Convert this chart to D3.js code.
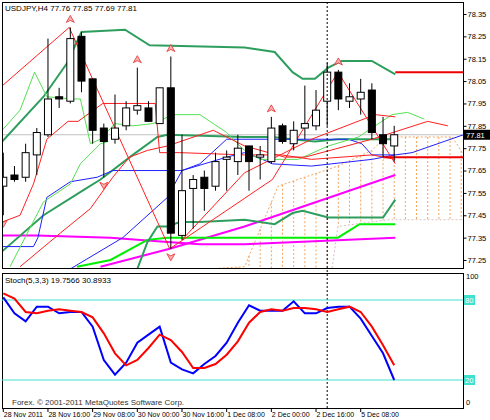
<!DOCTYPE html>
<html>
<head>
<meta charset="utf-8">
<script src="https://cdn.jsdelivr.net/npm/d3@7"></script>
<style>
body { margin: 0; background: #fff; }
svg { font-family: "Liberation Sans", sans-serif; font-size: 8px; }
</style>
</head>
<body>
<svg id="chart" width="490" height="420"></svg>
<script>
// candles, OHLC of USDJPY H4
var opens  = [77.58,77.63,77.62,77.72,77.81,77.98,77.96,78.25,78.06,77.84,77.79,77.85,77.92,77.93,77.86,78.02,77.36,77.57,77.62,77.58,77.70,77.69,77.76,77.71,77.69,77.85,77.77,77.84,77.85,77.96,78.09,77.96,77.97,78.01,77.81,77.76];
var highs  = [77.73,77.67,77.77,77.84,78.24,78.02,78.29,78.27,78.06,77.86,77.99,77.96,78.11,77.96,78.02,78.16,77.81,77.63,77.65,77.73,77.74,77.81,77.76,77.76,77.89,77.86,77.87,78.03,78.01,78.13,78.10,78.04,78.06,78.04,77.89,77.85];
var lows   = [77.45,77.60,77.60,77.63,77.80,77.93,77.95,78.00,77.77,77.62,77.77,77.83,77.90,77.87,77.86,77.30,77.34,77.39,77.47,77.56,77.56,77.63,77.56,77.61,77.68,77.77,77.74,77.79,77.83,77.85,77.92,77.93,77.90,77.79,77.71,77.69];
var closes = [77.62,77.61,77.73,77.82,77.97,77.97,78.24,78.05,77.83,77.78,77.84,77.93,77.94,77.87,78.02,77.37,77.56,77.61,77.57,77.69,77.71,77.75,77.69,77.72,77.84,77.78,77.83,77.86,77.92,78.09,77.97,77.98,78.00,77.82,77.77,77.81];

// indicator lines as [bar index, price]
var bbUpper = [[-0.1,77.78],[3.6,77.98],[5.7,78.13],[7.0,78.27],[10.9,78.28],[13.1,78.21],[21.6,78.20],[24.3,78.18],[25.9,78.09],[26.8,78.06],[27.9,78.06],[29.1,78.11],[30.3,78.14],[33.0,78.14],[35.1,78.08]];
var bbMid = [[-0.3,77.28],[3.6,77.45],[7.1,77.56],[8.7,77.61],[11.6,77.72],[13.8,77.80],[14.7,77.81],[21.6,77.80],[24.1,77.80],[25.9,77.79],[27.9,77.78],[29.96,77.79],[33.0,77.79],[35.1,77.79]];
var bbLower = [[12.0,77.21],[12.9,77.33],[13.8,77.40],[14.7,77.40],[15.8,77.42],[17.6,77.42],[21.6,77.43],[24.3,77.41],[25.9,77.46],[26.8,77.47],[29.1,77.44],[34.0,77.44],[35.1,77.52]];
var magentaFlat = [[-0.3,77.36],[3.0,77.36],[9.6,77.35],[14.7,77.33],[17.6,77.32],[21.6,77.32],[35.1,77.35]];
var magentaRise = [[8.7,77.22],[14.9,77.30],[21.6,77.40],[35.1,77.63]];
var limeLine = [[6.6,77.22],[9.6,77.25],[12.9,77.34],[14.7,77.35],[21.6,77.35],[29.96,77.35],[31.9,77.41],[35.1,77.41]];
var blueA = [[-0.3,77.31],[2.7,77.31],[3.1,77.35],[3.9,77.53],[6.0,77.60],[8.4,77.62],[9.8,77.65],[16.0,77.65],[17.6,77.68],[20.0,77.79],[24.9,77.79],[30.9,77.79],[32.1,77.77],[33.0,77.72],[35.1,77.72],[36.6,77.73],[41.2,77.81]];
var blueB = [[6.0,77.21],[10.7,77.35],[14.7,77.53],[16.0,77.65],[20.0,77.71],[21.6,77.73],[23.2,77.70],[24.1,77.68],[27.6,77.67],[29.4,77.68],[33.0,77.70],[35.1,77.72]];
var greenA = [[-0.1,77.83],[1.5,77.92],[2.8,78.09],[3.9,77.98],[6.1,77.97],[6.9,77.97],[7.8,77.77],[8.7,77.79],[10.0,77.86],[11.6,77.85],[13.4,77.86],[15.2,77.90],[17.6,77.90],[20.0,77.82],[21.6,77.74],[23.0,77.70],[26.4,77.70],[29.1,77.76],[31.8,77.80],[34.8,77.90],[36.2,77.91],[37.7,77.88]];
var greenB = [[0.6,77.22],[3.6,77.51],[6.0,77.59],[6.9,77.68],[8.7,77.77],[9.4,77.78]];
var zigzag = [[-0.3,78.02],[5.9,78.29],[14.9,77.30],[24.1,77.61],[29.96,78.09],[35.1,77.68]];
var redStep = [[-0.1,77.42],[1.5,77.45],[2.7,77.59],[3.9,77.79],[5.8,77.87],[6.7,77.87],[8.9,77.95],[13.6,77.95],[14.0,77.73],[15.8,77.73],[21.6,77.72],[24.9,77.72],[27.6,77.70],[33.0,77.72],[35.1,77.70]];
var redC = [[1.5,77.22],[5.1,77.37],[7.8,77.48],[9.8,77.62],[11.3,77.71],[12.9,77.74],[14.7,77.76],[18.8,77.83],[21.6,77.76],[25.2,77.71],[27.0,77.71],[33.0,77.79],[38.0,77.87],[39.8,77.85]];
var redD = [[16.0,77.34],[21.6,77.64],[27.6,77.79],[33.3,77.90],[35.1,77.89]];
var levelLines = [[35.1,41.2,78.09],[34.0,41.2,77.71]];
var senkouA = [[15.0,77.20],[21.6,77.22],[24.6,77.58],[29.96,77.67],[33.0,77.74],[34.2,77.80],[40.2,77.80],[41.1,77.73]];
var senkouB = [[15.0,77.20],[29.4,77.20],[29.96,77.40],[34.4,77.43],[41.1,77.43]];
var fractalUp = [6,12,15,24,30];
var fractalDown = [0,9,15];

// stochastic
var stochMain = [82,70,64,75,75,70,71,71,60,35,24,33,48,54,60,33,28,25,32,38,48,63,76,72,72,72,79,70,70,74,75,75,66,53,40,20];
var stochSignal = [85,81,71,70,72,73,72,71,67,55,40,31,35,44,54,50,41,29,29,32,39,49,63,71,73,72,74,74,73,71,73,75,71,60,46,31];

var priceTicks = [78.35,78.25,78.15,78.05,77.95,77.85,77.75,77.65,77.55,77.45,77.35,77.25];
var timeLabels = ["28 Nov 2011","28 Nov 16:00","29 Nov 08:00","30 Nov 00:00","30 Nov 16:00","1 Dec 08:00","2 Dec 00:00","2 Dec 16:00","5 Dec 08:00"];
var lastPrice = 77.81;
var separatorBar = 29;

var svg = d3.select("#chart");
var left = 2, right = 463, mainTop = 2, mainBottom = 268, subTop = 273, subBottom = 408;

var x = d3.scaleLinear().domain([0, 35]).range([3.3, 394.2]);
var y = d3.scaleLinear().domain([77.25, 78.35]).range([260, 14]);
var ys = d3.scaleLinear().domain([20, 80]).range([380, 300]);

svg.append("defs").append("clipPath").attr("id", "mainclip")
  .append("rect").attr("x", left).attr("y", mainTop).attr("width", right - left).attr("height", mainBottom - mainTop);
svg.append("defs").append("clipPath").attr("id", "subclip")
  .append("rect").attr("x", left).attr("y", subTop).attr("width", right - left).attr("height", subBottom - subTop);

var main = svg.append("g").attr("clip-path", "url(#mainclip)");

// kumo cloud: dotted verticals between senkou lines
function interp(pts, i) {
  for (var k = 0; k < pts.length - 1; k++) {
    if (i >= pts[k][0] && i <= pts[k+1][0]) {
      var t = (i - pts[k][0]) / (pts[k+1][0] - pts[k][0]);
      return pts[k][1] + t * (pts[k+1][1] - pts[k][1]);
    }
  }
  return null;
}
d3.range(15, 42).forEach(function(i) {
  var a = interp(senkouA, i), b = interp(senkouB, i);
  if (a == null || b == null) return;
  main.append("line").attr("x1", x(i)).attr("x2", x(i)).attr("y1", y(a)).attr("y2", y(b))
    .attr("stroke", "#f4a460").attr("stroke-width", 1).attr("stroke-dasharray", "2,2");
});

var line = d3.line().x(function(d) { return x(d[0]); }).y(function(d) { return y(d[1]); });
function drawLine(data, color, w, dash) {
  main.append("path").datum(data).attr("d", line).attr("fill", "none")
    .attr("stroke", color).attr("stroke-width", w).attr("stroke-dasharray", dash || null);
}
drawLine(senkouA, "#f4a460", 1, "2,2");
drawLine(senkouB, "#d8c0c0", 1, "2,2");

// bid line
main.append("line").attr("x1", left).attr("x2", right).attr("y1", y(lastPrice)).attr("y2", y(lastPrice))
  .attr("stroke", "#c0c0c0").attr("stroke-width", 1);

drawLine(magentaFlat, "#ff00ff", 2);
drawLine(magentaRise, "#ff00ff", 2);
drawLine(limeLine, "#00ee00", 2);
drawLine(bbUpper, "#2e9e5e", 2);
drawLine(bbMid, "#2e9e5e", 2);
drawLine(bbLower, "#2e9e5e", 2);
drawLine(blueA, "#2020ff", 1);
drawLine(blueB, "#2020ff", 1);
drawLine(greenA, "#55e055", 1);
drawLine(greenB, "#55e055", 1);
drawLine(redStep, "#ff2020", 1);
drawLine(redC, "#ff2020", 1);
drawLine(redD, "#ff2020", 1);
drawLine(zigzag, "#ff2020", 1);

levelLines.forEach(function(d) {
  main.append("line").attr("x1", x(d[0])).attr("x2", x(d[1])).attr("y1", y(d[2])).attr("y2", y(d[2]))
    .attr("stroke", "#ee0000").attr("stroke-width", 2);
});

// candles
var bars = main.selectAll("g.bar").data(opens.map(function(o, i) {
  return {i: i, o: o, h: highs[i], l: lows[i], c: closes[i]};
})).enter().append("g").attr("class", "bar");
bars.append("line").attr("x1", function(d) { return x(d.i); }).attr("x2", function(d) { return x(d.i); })
  .attr("y1", function(d) { return y(d.h); }).attr("y2", function(d) { return y(d.l); })
  .attr("stroke", "#000").attr("stroke-width", 1);
bars.append("rect")
  .attr("x", function(d) { return x(d.i) - 3.5; })
  .attr("y", function(d) { return y(Math.max(d.o, d.c)); })
  .attr("width", 7)
  .attr("height", function(d) { return Math.max(1, Math.abs(y(d.o) - y(d.c))); })
  .attr("fill", function(d) { return d.c >= d.o ? "#fff" : "#000"; })
  .attr("stroke", "#000").attr("stroke-width", 1);

// fractal arrows
function arrow(i, py, up) {
  var cx = x(i), s = up ? 1 : -1;
  main.append("path")
    .attr("d", "M" + (cx - 4) + "," + (py + 3 * s) + "L" + cx + "," + (py - 4 * s) + "L" + (cx + 4) + "," + (py + 3 * s) + "L" + cx + "," + (py + 1 * s) + "Z")
    .attr("fill", "#ffb0b0").attr("stroke", "#e03030").attr("stroke-width", 0.8);
}
fractalUp.forEach(function(i) { arrow(i, y(highs[i]) - 8, true); });
fractalDown.forEach(function(i) { arrow(i, y(lows[i]) + 8, false); });

// separator
svg.append("line").attr("x1", x(separatorBar)).attr("x2", x(separatorBar)).attr("y1", mainTop).attr("y2", subBottom)
  .attr("stroke", "#000").attr("stroke-dasharray", "2,2").attr("stroke-width", 1);

// frames
svg.append("rect").attr("x", left + 0.5).attr("y", mainTop + 0.5).attr("width", right - left).attr("height", mainBottom - mainTop)
  .attr("fill", "none").attr("stroke", "#000");
svg.append("rect").attr("x", left + 0.5).attr("y", subTop + 0.5).attr("width", right - left).attr("height", subBottom - subTop)
  .attr("fill", "none").attr("stroke", "#000");

// price axis
var yAxis = d3.axisRight(y).tickValues(priceTicks).tickSize(3).tickPadding(1).tickFormat(d3.format(".2f"));
var ya = svg.append("g").attr("transform", "translate(" + (right + 0.5) + ",0)").call(yAxis);
ya.attr("font-size", 7.5).attr("font-family", "Liberation Sans");
ya.select(".domain").remove();
svg.append("rect").attr("x", right + 1).attr("y", y(lastPrice) - 5).attr("width", 26).attr("height", 10).attr("fill", "#000");
svg.append("text").attr("x", right + 3).attr("y", y(lastPrice) + 3).attr("font-size", 7.5).attr("fill", "#fff").text(lastPrice.toFixed(2));

svg.append("text").attr("x", 5).attr("y", 11).text("USDJPY,H4  77.76 77.85 77.69 77.81");

// stochastic panel
var sub = svg.append("g").attr("clip-path", "url(#subclip)");
[80, 20].forEach(function(v) {
  sub.append("line").attr("x1", left).attr("x2", right).attr("y1", ys(v)).attr("y2", ys(v))
    .attr("stroke", "#40e0d0").attr("stroke-width", 1);
});
var sline = d3.line().x(function(d, i) { return x(i); }).y(function(d) { return ys(d); });
sub.append("path").datum(stochMain).attr("d", sline).attr("fill", "none").attr("stroke", "#0000ff").attr("stroke-width", 2);
sub.append("path").datum(stochSignal).attr("d", sline).attr("fill", "none").attr("stroke", "#ff0000").attr("stroke-width", 2);

svg.append("text").attr("x", 5).attr("y", 283).text("Stoch(5,3,3) 19.7566 30.8933");
svg.append("text").attr("x", 12).attr("y", 405).attr("fill", "#333").text("Forex. \u00a9 2001-2011 MetaQuotes Software Corp.");

svg.append("text").attr("x", right + 3).attr("y", ys(100) + 6).attr("font-size", 7.5).text("100");
svg.append("text").attr("x", right + 3).attr("y", ys(0) - 2).attr("font-size", 7.5).text("0");
[80, 20].forEach(function(v) {
  svg.append("rect").attr("x", right + 1).attr("y", ys(v) - 5).attr("width", 11).attr("height", 10).attr("fill", "#40e0d0");
  svg.append("text").attr("x", right + 2).attr("y", ys(v) + 3).attr("font-size", 7.5).attr("fill", "#fff").text(v);
});

// time axis
timeLabels.forEach(function(t, k) {
  var i = k * 4;
  svg.append("line").attr("x1", x(i)).attr("x2", x(i)).attr("y1", subBottom).attr("y2", subBottom + 4).attr("stroke", "#000");
  svg.append("text").attr("x", x(i) + 0.5).attr("y", 417).attr("font-size", 7).text(t);
});
</script>
</body>
</html>
